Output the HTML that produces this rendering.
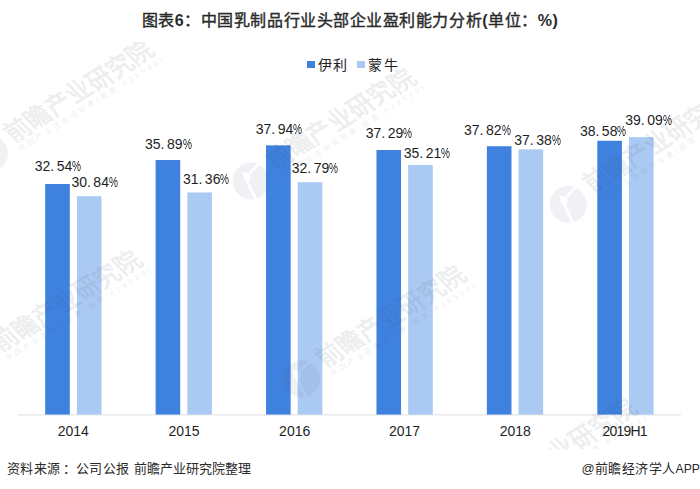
<!DOCTYPE html>
<html lang="zh-CN"><head><meta charset="utf-8"><style>
html,body{margin:0;padding:0;background:#fff;}
body{width:700px;height:489px;position:relative;overflow:hidden;font-family:"Liberation Sans",sans-serif;color:#222;}
.title{position:absolute;left:0;width:700px;top:11px;text-align:center;font-size:16px;line-height:20px;font-weight:normal;letter-spacing:0.55px;-webkit-text-stroke:0.4px #2a2a2a;color:#2a2a2a;white-space:nowrap}
.title b{-webkit-text-stroke:0;font-weight:bold}
.sq{position:absolute;width:8px;height:7px;top:61px}
.lt{position:absolute;top:57px;font-size:14px;line-height:16px;letter-spacing:1.5px;color:#222;}
svg{position:absolute;left:0;top:0}
.lab{position:absolute;font-size:14px;line-height:16px;white-space:nowrap;color:#1e1e1e}
.p{display:inline-block;transform:scaleX(0.72);transform-origin:0 0;margin-right:-3.5px}
.g{margin-left:2.5px}
.cat{position:absolute;width:80px;text-align:center;top:422.5px;font-size:14px;line-height:16px;color:#1e1e1e;}
.foot{position:absolute;left:6.5px;top:461px;font-size:13px;line-height:16px;letter-spacing:0.6px;color:#2a2a2a;white-space:nowrap}
.foot2{position:absolute;left:581.5px;top:461px;font-size:13px;line-height:16px;letter-spacing:0.4px;color:#2a2a2a;white-space:nowrap;}
</style></head><body>
<svg width="700" height="489" viewBox="0 0 700 489">
<rect x="18" y="414.4" width="663" height="1" fill="#e0e0e0"/>
<rect x="45.20" y="184.01" width="24.6" height="230.59" fill="#3f81df"/><rect x="76.90" y="196.19" width="24.6" height="218.41" fill="#abcaf3"/><rect x="155.62" y="160.03" width="24.6" height="254.57" fill="#3f81df"/><rect x="187.32" y="192.46" width="24.6" height="222.14" fill="#abcaf3"/><rect x="266.04" y="145.35" width="24.6" height="269.25" fill="#3f81df"/><rect x="297.74" y="182.22" width="24.6" height="232.38" fill="#abcaf3"/><rect x="376.46" y="150.00" width="24.6" height="264.60" fill="#3f81df"/><rect x="408.16" y="164.90" width="24.6" height="249.70" fill="#abcaf3"/><rect x="486.88" y="146.21" width="24.6" height="268.39" fill="#3f81df"/><rect x="518.58" y="149.36" width="24.6" height="265.24" fill="#abcaf3"/><rect x="597.30" y="140.77" width="24.6" height="273.83" fill="#3f81df"/><rect x="629.00" y="137.12" width="24.6" height="277.48" fill="#abcaf3"/>
<defs><mask id="lm" maskUnits="userSpaceOnUse" x="-20" y="-20" width="40" height="40"><rect x="-20" y="-20" width="40" height="40" fill="#fff"/><path d="M8.5,-18 L-1.2,-7.9" stroke="#000" stroke-width="2.6" fill="none"/><path d="M-9,-9 L-1,-7.5 L-0.5,-1 L-7,-0.5 Z" fill="#000"/><path d="M-5,-2 L5,19" stroke="#000" stroke-width="3" fill="none"/></mask><clipPath id="wc"><rect x="0" y="42" width="700" height="407.5"/></clipPath></defs>
<g clip-path="url(#wc)" font-family="Liberation Sans, sans-serif"><g transform="translate(-10.4,153.5)"><circle cx="0" cy="0" r="18.5" fill="rgba(90,100,130,0.09)" mask="url(#lm)"/><g transform="rotate(-32)"><text transform="skewX(12) scale(0.92,1)" x="28.0" y="3.6" font-size="26" font-weight="bold" letter-spacing="0.41" fill="rgba(70,76,95,0.11)">前瞻产业研究院</text><text x="26.85" y="14.5" font-size="7.5" textLength="169.3" lengthAdjust="spacing" fill="rgba(70,76,95,0.13)">中国产业咨询领导者(股票:839599)</text></g></g><g transform="translate(251.1,181)"><circle cx="0" cy="0" r="18.5" fill="rgba(90,100,130,0.09)" mask="url(#lm)"/><g transform="rotate(-32)"><text transform="skewX(12) scale(0.92,1)" x="28.0" y="3.6" font-size="26" font-weight="bold" letter-spacing="0.41" fill="rgba(70,76,95,0.11)">前瞻产业研究院</text><text x="26.85" y="14.5" font-size="7.5" textLength="169.3" lengthAdjust="spacing" fill="rgba(70,76,95,0.13)">中国产业咨询领导者(股票:839599)</text></g></g><g transform="translate(-23,363.3)"><circle cx="0" cy="0" r="18.5" fill="rgba(90,100,130,0.09)" mask="url(#lm)"/><g transform="rotate(-32)"><text transform="skewX(12) scale(0.92,1)" x="28.0" y="3.6" font-size="26" font-weight="bold" letter-spacing="0.41" fill="rgba(70,76,95,0.11)">前瞻产业研究院</text><text x="26.85" y="14.5" font-size="7.5" textLength="169.3" lengthAdjust="spacing" fill="rgba(70,76,95,0.13)">中国产业咨询领导者(股票:839599)</text></g></g><g transform="translate(301.5,378.8)"><circle cx="0" cy="0" r="18.5" fill="rgba(90,100,130,0.09)" mask="url(#lm)"/><g transform="rotate(-32)"><text transform="skewX(12) scale(0.92,1)" x="28.0" y="3.6" font-size="26" font-weight="bold" letter-spacing="0.41" fill="rgba(70,76,95,0.11)">前瞻产业研究院</text><text x="26.85" y="14.5" font-size="7.5" textLength="169.3" lengthAdjust="spacing" fill="rgba(70,76,95,0.13)">中国产业咨询领导者(股票:839599)</text></g></g><g transform="translate(472.6,511.5)"><circle cx="0" cy="0" r="18.5" fill="rgba(90,100,130,0.09)" mask="url(#lm)"/><g transform="rotate(-32)"><text transform="skewX(12) scale(0.92,1)" x="28.0" y="3.6" font-size="26" font-weight="bold" letter-spacing="0.41" fill="rgba(70,76,95,0.11)">前瞻产业研究院</text><text x="26.85" y="14.5" font-size="7.5" textLength="169.3" lengthAdjust="spacing" fill="rgba(70,76,95,0.13)">中国产业咨询领导者(股票:839599)</text></g></g><g transform="translate(568.2,204.3)"><circle cx="0" cy="0" r="18.5" fill="rgba(90,100,130,0.09)" mask="url(#lm)"/><g transform="rotate(-32)"><text transform="skewX(12) scale(0.92,1)" x="28.0" y="3.6" font-size="26" font-weight="bold" letter-spacing="0.41" fill="rgba(70,76,95,0.11)">前瞻产业研究院</text><text x="26.85" y="14.5" font-size="7.5" textLength="169.3" lengthAdjust="spacing" fill="rgba(70,76,95,0.13)">中国产业咨询领导者(股票:839599)</text></g></g></g>
</svg>
<div class="title">图表<b>6</b>：中国乳制品行业头部企业盈利能力分析<b>(</b>单位：<b>%)</b></div>
<div class="sq" style="left:307px;background:#3f81df"></div><div class="lt" style="left:317.5px">伊利</div>
<div class="sq" style="left:357px;background:#abcaf3"></div><div class="lt" style="left:368.2px">蒙牛</div>
<div class="lab" style="left:34.8px;top:158.4px">32.<span class="g"></span>54<span class="p">%</span></div><div class="lab" style="left:71.4px;top:174.4px">30.<span class="g"></span>84<span class="p">%</span></div><div class="cat" style="left:33.3px">2014</div><div class="lab" style="left:145.0px;top:135.6px">35.<span class="g"></span>89<span class="p">%</span></div><div class="lab" style="left:182.9px;top:171.3px">31.<span class="g"></span>36<span class="p">%</span></div><div class="cat" style="left:144.0px">2015</div><div class="lab" style="left:255.8px;top:121.4px">37.<span class="g"></span>94<span class="p">%</span></div><div class="lab" style="left:291.7px;top:159.5px">32.<span class="g"></span>79<span class="p">%</span></div><div class="cat" style="left:254.7px">2016</div><div class="lab" style="left:365.8px;top:125.4px">37.<span class="g"></span>29<span class="p">%</span></div><div class="lab" style="left:403.8px;top:145.3px">35.<span class="g"></span>21<span class="p">%</span></div><div class="cat" style="left:364.6px">2017</div><div class="lab" style="left:464.0px;top:122.1px">37.<span class="g"></span>82<span class="p">%</span></div><div class="lab" style="left:514.2px;top:131.9px">37.<span class="g"></span>38<span class="p">%</span></div><div class="cat" style="left:475.3px">2018</div><div class="lab" style="left:579.9px;top:122.8px">38.<span class="g"></span>58<span class="p">%</span></div><div class="lab" style="left:625.2px;top:111.5px">39.<span class="g"></span>09<span class="p">%</span></div><div class="cat" style="left:585.1px;letter-spacing:-0.8px;text-indent:-0.8px">2019H1</div>
<div class="foot">资料来源<span style="margin-left:2.2px;margin-right:-0.9px">：</span><span style="letter-spacing:0.35px">公司公报</span></div><div class="foot" style="left:133.5px;letter-spacing:0">前瞻产业研究院整理</div>
<div class="foot2">@前瞻经济学人<span style="font-size:12.2px;letter-spacing:0">APP</span></div>
</body></html>
